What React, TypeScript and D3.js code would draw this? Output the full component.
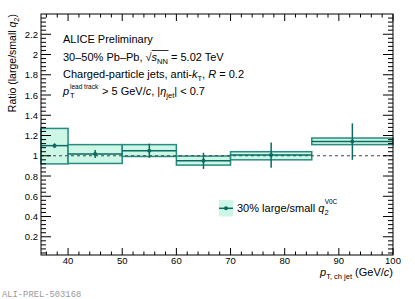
import React, { useLayoutEffect, useRef, useState } from "react";
import * as d3 from "d3";

// bins in pT (GeV/c)
const binLow = [35, 40, 50, 60, 70, 85];
const binHigh = [40, 50, 60, 70, 85, 100];
const ptCenter = [37.5, 45, 55, 65, 77.5, 92.5];
// ratio large/small q2 with errors
const ratio = [1.1, 1.017, 1.05, 0.95, 1.007, 1.14];
const statErr = [0.023, 0.04, 0.07, 0.08, 0.125, 0.18];
const sysLow = [0.92, 0.924, 0.993, 0.908, 0.96, 1.11];
const sysHigh = [1.27, 1.11, 1.11, 0.997, 1.04, 1.175];

const xMajor = [40, 50, 60, 70, 80, 90, 100];
const yMajor = [0.2, 0.4, 0.6, 0.8, 1, 1.2, 1.4, 1.6, 1.8, 2, 2.2];

const W = 415;
const H = 299;
const margin = { top: 14, right: 22, bottom: 44, left: 41 };
const font = "'Liberation Sans', Arial, Helvetica, sans-serif";
const boxFill = "#ccf7e6";
const boxStroke = "#2a8a7f";
const lineCol = "#0b6a62";
const fs = 11;
const fsSub = 7.5;

const sqrtPrefix = "30–50% Pb–Pb, √";

const App: React.FC = () => {
  const line2 = useRef<SVGTextElement>(null);
  const [bar, setBar] = useState<[number, number] | null>(null);

  useLayoutEffect(() => {
    const t = line2.current;
    if (!t) return;
    // overline of the square root: from "s" to end of "NN"
    const i0 = sqrtPrefix.length;
    const a = t.getStartPositionOfChar(i0).x;
    const b = t.getEndPositionOfChar(i0 + 2).x;
    setBar([a, b]);
  }, []);

  const x = d3
    .scaleLinear()
    .domain([35, 100])
    .range([margin.left, W - margin.right]);
  const y = d3
    .scaleLinear()
    .domain([0.02, 2.4])
    .range([H - margin.bottom, margin.top]);

  const x0 = x.range()[0],
    x1 = x.range()[1];
  const y0 = y.range()[0],
    y1 = y.range()[1];

  const xMinor = d3.range(36, 100, 2).filter((v) => v % 10 !== 0);
  const yMinor = d3
    .range(0.04, 2.4, 0.04)
    .filter((v) => Math.abs(v * 5 - Math.round(v * 5)) > 0.01);

  return (
    <svg
      width={W}
      height={H}
      style={{ position: "absolute", left: 0, top: 0, background: "#fff" }}
      fontFamily={font}
    >
      {/* systematic boxes */}
      {binLow.map((lo, i) => (
        <rect
          key={"sys" + i}
          x={x(lo)}
          y={y(sysHigh[i])}
          width={x(binHigh[i]) - x(lo)}
          height={y(sysLow[i]) - y(sysHigh[i])}
          fill={boxFill}
          stroke={boxStroke}
          strokeWidth={1.5}
        />
      ))}

      {/* reference line at 1 */}
      <line
        x1={x0}
        x2={x1}
        y1={y(1)}
        y2={y(1)}
        stroke="#444"
        strokeWidth={1}
        strokeDasharray="3,3"
      />

      {/* central values over the bin width */}
      {binLow.map((lo, i) => (
        <line
          key={"val" + i}
          x1={x(lo)}
          x2={x(binHigh[i])}
          y1={y(ratio[i])}
          y2={y(ratio[i])}
          stroke={lineCol}
          strokeWidth={1.5}
        />
      ))}
      {ptCenter.map((c, i) => (
        <g key={"pt" + i}>
          <line
            x1={x(c)}
            x2={x(c)}
            y1={y(ratio[i] + statErr[i])}
            y2={y(ratio[i] - statErr[i])}
            stroke={lineCol}
            strokeWidth={1.5}
          />
          <circle cx={x(c)} cy={y(ratio[i])} r={2} fill={lineCol} />
        </g>
      ))}

      {/* frame */}
      <rect
        x={x0}
        y={y1}
        width={x1 - x0}
        height={y0 - y1}
        fill="none"
        stroke="#000"
        strokeWidth={1}
      />

      {/* x ticks bottom + top */}
      {xMajor.map((v) => (
        <g key={"xM" + v}>
          <line x1={x(v)} x2={x(v)} y1={y0} y2={y0 - 7} stroke="#000" />
          <line x1={x(v)} x2={x(v)} y1={y1} y2={y1 + 7} stroke="#000" />
          <text x={x(v)} y={y0 + 9} fontSize={9.5} textAnchor="middle">
            {v}
          </text>
        </g>
      ))}
      {xMinor.map((v) => (
        <g key={"xm" + v}>
          <line x1={x(v)} x2={x(v)} y1={y0} y2={y0 - 3.5} stroke="#000" />
          <line x1={x(v)} x2={x(v)} y1={y1} y2={y1 + 3.5} stroke="#000" />
        </g>
      ))}

      {/* y ticks left + right */}
      {yMajor.map((v) => (
        <g key={"yM" + v}>
          <line x1={x0} x2={x0 + 10} y1={y(v)} y2={y(v)} stroke="#000" />
          <line x1={x1} x2={x1 - 10} y1={y(v)} y2={y(v)} stroke="#000" />
          <text x={x0 - 3} y={y(v) + 3.5} fontSize={9.5} textAnchor="end">
            {d3.format("~g")(v)}
          </text>
        </g>
      ))}
      {yMinor.map((v) => (
        <g key={"ym" + v.toFixed(2)}>
          <line x1={x0} x2={x0 + 5} y1={y(v)} y2={y(v)} stroke="#000" />
          <line x1={x1} x2={x1 - 5} y1={y(v)} y2={y(v)} stroke="#000" />
        </g>
      ))}

      {/* y axis title */}
      <text
        transform={`translate(16,${y1}) rotate(-90)`}
        textAnchor="end"
        fontSize={10.5}
      >
        Ratio (large/small <tspan fontStyle="italic">q</tspan>
        <tspan fontSize={fsSub} dy={2.5}>
          2
        </tspan>
        <tspan dy={-2.5}>)</tspan>
      </text>

      {/* x axis title */}
      <text x={x1} y={276} textAnchor="end" fontSize={fs}>
        <tspan fontStyle="italic">p</tspan>
        <tspan fontSize={fsSub} dy={3}>
          T, ch jet
        </tspan>
        <tspan dy={-3}> (GeV/</tspan>
        <tspan fontStyle="italic">c</tspan>)
      </text>

      {/* header texts */}
      <text x={63} y={43} fontSize={fs}>
        ALICE Preliminary
      </text>

      <text ref={line2} x={63} y={61} fontSize={fs}>
        {sqrtPrefix}
        <tspan fontStyle="italic">s</tspan>
        <tspan fontSize={fsSub} dy={3}>
          NN
        </tspan>
        <tspan dy={-3}> = 5.02 TeV</tspan>
      </text>
      {bar && (
        <line
          x1={bar[0]}
          x2={bar[1] + 0.5}
          y1={50.5}
          y2={50.5}
          stroke="#000"
          strokeWidth={0.8}
        />
      )}

      <text x={63} y={78} fontSize={fs}>
        Charged-particle jets, anti-<tspan fontStyle="italic">k</tspan>
        <tspan fontSize={fsSub} dy={3}>
          T
        </tspan>
        <tspan dy={-3}>, </tspan>
        <tspan fontStyle="italic">R</tspan> = 0.2
      </text>

      <text x={63} y={95} fontSize={fs} fontStyle="italic">
        p
      </text>
      <text x={70} y={89} fontSize={6.5}>
        lead track
      </text>
      <text x={70} y={98} fontSize={fsSub}>
        T
      </text>
      <text x={102} y={95} fontSize={fs}>
        {"> 5 GeV/"}
        <tspan fontStyle="italic">c</tspan>, |<tspan fontStyle="italic">η</tspan>
        <tspan fontSize={fsSub} dy={3}>
          jet
        </tspan>
        <tspan dy={-3}>| &lt; 0.7</tspan>
      </text>

      {/* legend */}
      <rect x={219} y={200} width={14} height={16.5} fill={boxFill} />
      <line x1={219} x2={233} y1={208.3} y2={208.3} stroke={lineCol} strokeWidth={1.5} />
      <circle cx={226} cy={208.3} r={2} fill={lineCol} />
      <text x={237} y={212} fontSize={fs}>
        30% large/small <tspan fontStyle="italic">q</tspan>
        <tspan fontSize={fsSub} dy={3}>
          2
        </tspan>
        <tspan fontSize={6.5} dx={-4} dy={-11}>
          V0C
        </tspan>
      </text>

      {/* figure id */}
      <text
        x={2}
        y={296.5}
        fontSize={8.8}
        fill="#999"
        fontFamily="'Liberation Mono', 'DejaVu Sans Mono', monospace"
      >
        ALI-PREL-503168
      </text>
    </svg>
  );
};

export default App;
